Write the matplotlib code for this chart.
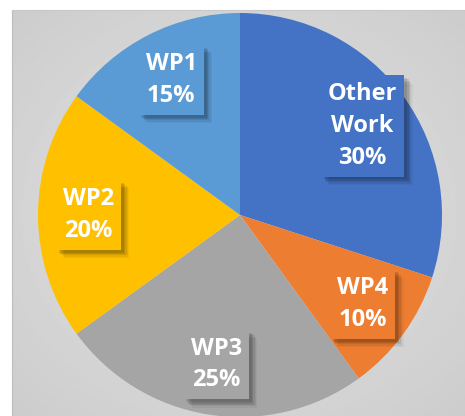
import matplotlib.pyplot as plt
import numpy as np
from matplotlib import patheffects as pe

# Work package share of effort
names = ["Other\nWork", "WP4", "WP3", "WP2", "WP1"]
shares = [30, 10, 25, 20, 15]
colors = ["#4472C4", "#ED7D31", "#A5A5A5", "#FFC000", "#5B9BD5"]

W, H = 465, 416
fig = plt.figure(figsize=(W / 100, H / 100), dpi=100)
fig.patch.set_facecolor("white")

# Gray radial-gradient panel behind the pie
bg = fig.add_axes([12 / W, 0, (W - 12) / W, (H - 10) / H])
yy, xx = np.mgrid[-1:1:200j, -1:1:200j]
rr = np.sqrt(xx ** 2 + yy ** 2) / np.sqrt(2)
bg.imshow(0.90 - 0.10 * rr, cmap="gray", vmin=0, vmax=1, aspect="auto",
          extent=(0, 1, 0, 1), interpolation="bilinear")
bg.set_xlim(0, 1)
bg.set_ylim(0, 1)
bg.set_xticks([])
bg.set_yticks([])
for side in ["right", "bottom"]:
    bg.spines[side].set_visible(False)
bg.spines["left"].set_color("#bdbdbd")
bg.spines["top"].set_color("#c8c8c8")

# Pie axes: centre (240, 215) px, radius 202 px
cx, cy, r = 240, 215, 202
ax = fig.add_axes([(cx - r) / W, (H - cy - r) / H, 2 * r / W, 2 * r / H])
ax.set_facecolor("none")

labels = [f"{n}\n{s}%" for n, s in zip(names, shares)]
wedges, texts = ax.pie(
    shares,
    labels=labels,
    colors=colors,
    startangle=90,
    counterclock=False,
    labeldistance=0.75,
    radius=1,
    wedgeprops=dict(linewidth=0),
    textprops=dict(color="white", fontsize=17, fontweight="bold",
                   family=["Open Sans", "DejaVu Sans"], linespacing=1.42),
)
ax.set_xlim(-1, 1)
ax.set_ylim(-1, 1)

shadow = [
    pe.SimplePatchShadow(offset=(o, -o), shadow_rgbFace="black", alpha=a)
    for o, a in [(6, 0.04), (5, 0.06), (4, 0.08), (3, 0.10), (2, 0.10)]
]
for t, c in zip(texts, colors):
    t.set_horizontalalignment("center")
    t.set_verticalalignment("center")
    t.set_bbox(dict(boxstyle="square,pad=0.3", facecolor=c, edgecolor="none"))
    t.get_bbox_patch().set_path_effects(shadow + [pe.Normal()])

fig.savefig("out.png", dpi=100)
